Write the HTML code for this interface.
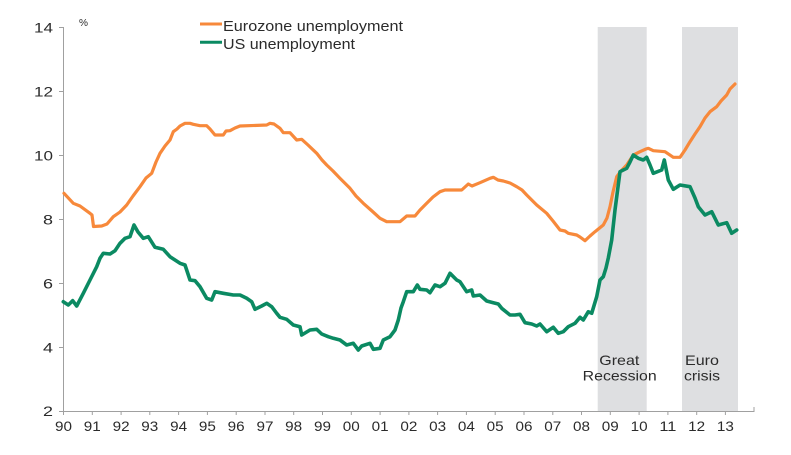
<!DOCTYPE html>
<html>
<head>
<meta charset="utf-8">
<style>
html,body{margin:0;padding:0;background:#fff;}
svg{display:block;}
text{font-family:"Liberation Sans",Arial,sans-serif;fill:#2b2b2b;}
</style>
</head>
<body>
<svg width="791" height="455" viewBox="0 0 791 455" xmlns="http://www.w3.org/2000/svg">
  <rect x="0" y="0" width="791" height="455" fill="#fff"/>
  <!-- shaded periods -->
  <rect x="597.7" y="27" width="49" height="384" fill="#dedfe1"/>
  <rect x="682" y="27" width="56" height="384" fill="#dedfe1"/>

  <!-- axes -->
  <g stroke="#a0a0a0" stroke-width="1" fill="none">
    <line x1="63.5" y1="27" x2="63.5" y2="411.5"/>
    <line x1="63" y1="411.5" x2="754" y2="411.5"/>
    <line x1="59" y1="27.5" x2="63" y2="27.5"/>
    <line x1="59" y1="91.5" x2="63" y2="91.5"/>
    <line x1="59" y1="155.5" x2="63" y2="155.5"/>
    <line x1="59" y1="219.5" x2="63" y2="219.5"/>
    <line x1="59" y1="283.5" x2="63" y2="283.5"/>
    <line x1="59" y1="347.5" x2="63" y2="347.5"/>
    <line x1="59" y1="411.5" x2="63" y2="411.5"/>
    <line x1="63.5" y1="411" x2="63.5" y2="415"/>
    <line x1="92.3" y1="411" x2="92.3" y2="415"/>
    <line x1="121.1" y1="411" x2="121.1" y2="415"/>
    <line x1="149.8" y1="411" x2="149.8" y2="415"/>
    <line x1="178.6" y1="411" x2="178.6" y2="415"/>
    <line x1="207.4" y1="411" x2="207.4" y2="415"/>
    <line x1="236.2" y1="411" x2="236.2" y2="415"/>
    <line x1="265" y1="411" x2="265" y2="415"/>
    <line x1="293.7" y1="411" x2="293.7" y2="415"/>
    <line x1="322.5" y1="411" x2="322.5" y2="415"/>
    <line x1="351.3" y1="411" x2="351.3" y2="415"/>
    <line x1="380.1" y1="411" x2="380.1" y2="415"/>
    <line x1="408.9" y1="411" x2="408.9" y2="415"/>
    <line x1="437.6" y1="411" x2="437.6" y2="415"/>
    <line x1="466.4" y1="411" x2="466.4" y2="415"/>
    <line x1="495.2" y1="411" x2="495.2" y2="415"/>
    <line x1="524" y1="411" x2="524" y2="415"/>
    <line x1="552.8" y1="411" x2="552.8" y2="415"/>
    <line x1="581.5" y1="411" x2="581.5" y2="415"/>
    <line x1="610.3" y1="411" x2="610.3" y2="415"/>
    <line x1="639.1" y1="411" x2="639.1" y2="415"/>
    <line x1="667.9" y1="411" x2="667.9" y2="415"/>
    <line x1="696.7" y1="411" x2="696.7" y2="415"/>
    <line x1="725.4" y1="411" x2="725.4" y2="415"/>
    <line x1="754" y1="407" x2="754" y2="412"/>
  </g>

  <!-- y labels -->
  <g font-size="13.5" text-anchor="end">
    <text x="53" y="32.5" textLength="19" lengthAdjust="spacingAndGlyphs">14</text>
    <text x="53" y="96.5" textLength="19" lengthAdjust="spacingAndGlyphs">12</text>
    <text x="53" y="160.5" textLength="19" lengthAdjust="spacingAndGlyphs">10</text>
    <text x="53" y="224.5" textLength="10" lengthAdjust="spacingAndGlyphs">8</text>
    <text x="53" y="288.5" textLength="10" lengthAdjust="spacingAndGlyphs">6</text>
    <text x="53" y="352.5" textLength="10" lengthAdjust="spacingAndGlyphs">4</text>
    <text x="53" y="416" textLength="10" lengthAdjust="spacingAndGlyphs">2</text>
  </g>
  <text x="79" y="26" font-size="10" textLength="9" lengthAdjust="spacingAndGlyphs">%</text>

  <!-- x labels -->
  <g font-size="13.5">
    <text x="55" y="431" textLength="17" lengthAdjust="spacingAndGlyphs">90</text>
    <text x="83.8" y="431" textLength="17" lengthAdjust="spacingAndGlyphs">91</text>
    <text x="112.6" y="431" textLength="17" lengthAdjust="spacingAndGlyphs">92</text>
    <text x="141.3" y="431" textLength="17" lengthAdjust="spacingAndGlyphs">93</text>
    <text x="170.1" y="431" textLength="17" lengthAdjust="spacingAndGlyphs">94</text>
    <text x="198.9" y="431" textLength="17" lengthAdjust="spacingAndGlyphs">95</text>
    <text x="227.7" y="431" textLength="17" lengthAdjust="spacingAndGlyphs">96</text>
    <text x="256.5" y="431" textLength="17" lengthAdjust="spacingAndGlyphs">97</text>
    <text x="285.2" y="431" textLength="17" lengthAdjust="spacingAndGlyphs">98</text>
    <text x="314" y="431" textLength="17" lengthAdjust="spacingAndGlyphs">99</text>
    <text x="342.8" y="431" textLength="17" lengthAdjust="spacingAndGlyphs">00</text>
    <text x="371.6" y="431" textLength="17" lengthAdjust="spacingAndGlyphs">01</text>
    <text x="400.4" y="431" textLength="17" lengthAdjust="spacingAndGlyphs">02</text>
    <text x="429.1" y="431" textLength="17" lengthAdjust="spacingAndGlyphs">03</text>
    <text x="457.9" y="431" textLength="17" lengthAdjust="spacingAndGlyphs">04</text>
    <text x="486.7" y="431" textLength="17" lengthAdjust="spacingAndGlyphs">05</text>
    <text x="515.5" y="431" textLength="17" lengthAdjust="spacingAndGlyphs">06</text>
    <text x="544.3" y="431" textLength="17" lengthAdjust="spacingAndGlyphs">07</text>
    <text x="573" y="431" textLength="17" lengthAdjust="spacingAndGlyphs">08</text>
    <text x="601.8" y="431" textLength="17" lengthAdjust="spacingAndGlyphs">09</text>
    <text x="630.6" y="431" textLength="17" lengthAdjust="spacingAndGlyphs">10</text>
    <text x="659.4" y="431" textLength="17" lengthAdjust="spacingAndGlyphs">11</text>
    <text x="688.2" y="431" textLength="17" lengthAdjust="spacingAndGlyphs">12</text>
    <text x="716.9" y="431" textLength="17" lengthAdjust="spacingAndGlyphs">13</text>
  </g>

  <!-- period labels -->
  <g font-size="14">
    <text x="599.3" y="365" textLength="40" lengthAdjust="spacingAndGlyphs">Great</text>
    <text x="582.7" y="380.7" textLength="74" lengthAdjust="spacingAndGlyphs">Recession</text>
    <text x="685" y="365" textLength="34" lengthAdjust="spacingAndGlyphs">Euro</text>
    <text x="684" y="380.7" textLength="36" lengthAdjust="spacingAndGlyphs">crisis</text>
  </g>

  <!-- legend -->
  <line x1="200" y1="24" x2="222" y2="24" stroke="#f7893b" stroke-width="3"/>
  <line x1="200" y1="42.3" x2="222" y2="42.3" stroke="#0b8a62" stroke-width="3"/>
  <text x="223" y="31" font-size="14.5" textLength="180" lengthAdjust="spacingAndGlyphs">Eurozone unemployment</text>
  <text x="223" y="49" font-size="14.5" textLength="132" lengthAdjust="spacingAndGlyphs">US unemployment</text>

  <!-- Eurozone series -->
  <polyline fill="none" stroke="#f7893b" stroke-width="3.2" stroke-linejoin="round" stroke-linecap="round"
    points="64,193.3 73.3,203.3 80,206 90,213.3 92,215 93.5,226.5 101.7,226 107,224 113.3,216.7 120,212 126.7,205 133,196 140,186.7 146,178 151.7,173.3 156,162 160,153.3 165,146 170,140 173.3,131.7 177,129 180,126 185,123.3 190,123.3 193.3,124.3 200,125.7 206.7,125.7 210,129 215,135 223.3,135 226,131 230,130.7 235,128 240,126 266.7,125 270,123.3 274,124 280,128.3 283.3,132.7 290,132.7 296.7,140 301.7,139.3 308,145 316.7,153.3 322,160 326.7,165 333,171 340,178.3 350,188.3 356,196 363.3,203.3 372,211 380,218.3 386.7,221.7 400,221.7 406.7,216 415,216 420,210 426.7,203.3 433,197 440,191.7 445,190 461.7,190 468.3,184 472,186 480,182.7 490,178.3 493.3,177.3 498,180 503.3,181 510,183 516.7,186.7 522,190 526.7,195 536.7,205 546.7,213.3 553,221 560,230 565,231 568.3,233.3 576.7,235 580,237 585,240.7 590,236 595,231.7 603.3,225 607,218 610,206.7 613,192 616.7,176.7 621,171 626.7,165 633.3,155 640,151.7 646,149 648.3,148.3 653.3,150.7 665,151.7 673.3,157.3 680,157.3 685,150 690,141.7 695,134 700,126.7 705,118 710,111.7 716.7,106.7 721,101 726.7,95 730,89 735,84"/>

  <!-- US series -->
  <polyline fill="none" stroke="#0b8a62" stroke-width="3.6" stroke-linejoin="round" stroke-linecap="round"
    points="63.3,301.7 68.3,305 72.7,300.7 76.7,306 83.3,293.3 90,280 96.7,266.7 100,258.3 103.3,253.3 110,254 115,250.7 120,243.3 125,238.3 130,236.7 134,225 138,232 143.3,238.3 148.3,236.7 155,247.3 163.3,249.3 170,256.7 180,263.3 185,265 190,280 195,280.7 200,286.7 206.7,298.3 211.7,300 215,291.7 223.3,293.3 233.3,295 240,295 246.7,298.3 251.7,301.7 255,309.3 261.7,306 266.7,303.3 271.7,306.7 276.7,313.3 280,317.3 286.7,319.3 293.3,325 300,326.7 301.7,335 310,330 316.7,329.3 321.7,334 328.3,336.7 333.3,338.3 340,340 346.7,345 353.3,343.3 358.3,350 361.7,346 370,343.3 373.3,349.3 380,348.3 383.3,340 390,336.7 395,330 398.3,320 401,308 403.3,301.7 406.7,291.7 413.3,291.7 417.3,285 420,289.3 426.7,290 430,292.7 435,285 440,286.7 445,283.3 450,273.3 456.7,280 460,281.7 466.7,291.7 471.7,290 473.3,296 480,295 486.7,301 493.3,302.7 498.3,304 501.7,308.3 510,315 515,315 520,314.3 525,322.7 531.7,324 536.7,326 540,324 546.7,331.7 553.3,327.3 558.3,333.3 563.3,331.7 568.3,326.7 575,323.3 580,317.3 583.3,320 588.3,311.7 591.7,313.3 596.7,296.7 600,280 603.3,276.7 606,268 608.3,258 611.7,240 615,210 620,171.7 626.7,168.3 630,162 633.3,155 638.3,158.3 643.3,160 646.7,157.3 650,165 653.3,173.3 661.7,170 664.3,160 668.3,180 673.3,189.3 680,185 690,186.7 695,198 698.3,206.7 705,215 711.7,211.7 718.3,225 726.7,222.7 731.7,233.3 736.7,230"/>
</svg>
</body>
</html>
